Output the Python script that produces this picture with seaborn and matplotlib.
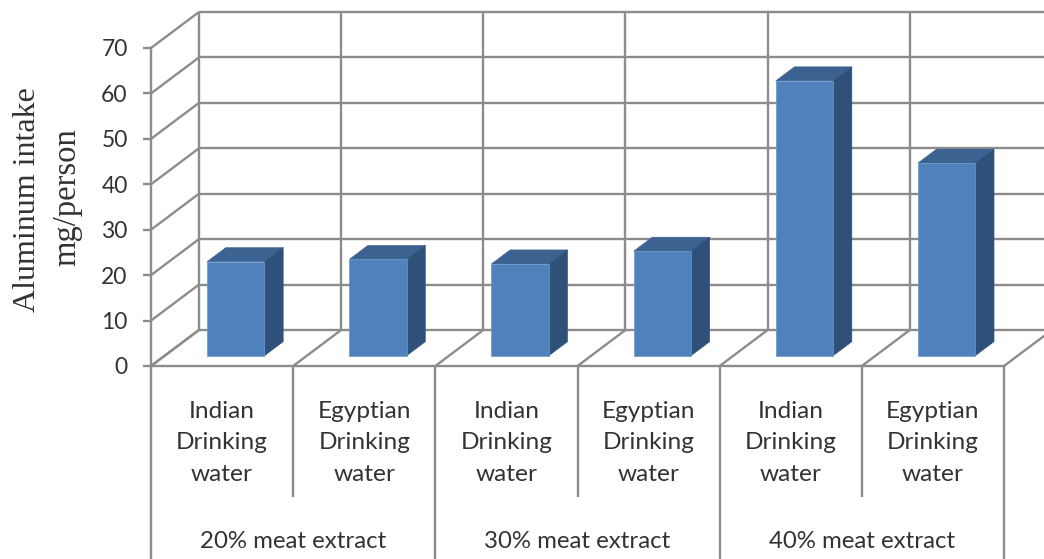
import matplotlib
matplotlib.use("Agg")
import matplotlib.pyplot as plt
from matplotlib.patches import Polygon
from matplotlib.transforms import Affine2D
import pandas as pd
import seaborn as sns

# Aluminum intake per person
extracts = ["20% meat extract", "30% meat extract", "40% meat extract"]
waters = ["Indian\nDrinking\nwater", "Egyptian\nDrinking\nwater"]
intake = [20.7, 21.2, 20.2, 23.0, 60.5, 42.4]
y_ticks = [0, 10, 20, 30, 40, 50, 60, 70]

GRID = "#8c8c8c"
FRONT = "#4f81bd"
TOP = "#3b6291"
SIDE = "#2f5078"
TEXT = "#333333"

W, H = 1044, 559
sns.set_style("white")
plt.rcParams["font.family"] = ["Lato", "DejaVu Sans"]

fig = plt.figure(figsize=(W / 100, H / 100), dpi=100, facecolor="white")
# Front plane of the 3-D box
ax = fig.add_axes([151 / W, 1 - 366 / H, 853 / W, 318 / H])

frame = pd.DataFrame({
    "bar": [f"{e} {w}" for e in extracts for w in waters],
    "intake": intake,
})
sns.barplot(data=frame, x="bar", y="intake", color=FRONT, saturation=1,
            width=0.404, ax=ax, zorder=5, edgecolor="#6a96cb", linewidth=0.5)
ax.set_xlim(-0.5, 5.5)
ax.set_ylim(0, 70)
ax.set_xlabel("")
ax.set_ylabel("")

# Box depth expressed in data units
DX, DY = 0.3376, 7.93
BAR_START, BAR_END = 0.285, 0.675
line = dict(color=GRID, lw=1.7, clip_on=False, solid_capstyle="butt")
edges = [i - 0.5 for i in range(7)]

# Back wall, left wall and floor
for v in y_ticks:
    ax.plot([-0.5 + DX, 5.5 + DX], [v + DY, v + DY], zorder=1, **line)
    ax.plot([-0.5, -0.5 + DX], [v, v + DY], zorder=1, **line)
for e in edges:
    ax.plot([e + DX, e + DX], [DY, 70 + DY], zorder=1, **line)
    ax.plot([e, e + DX], [0, DY], zorder=1, **line)

# Bar front faces sit part way into the box; top and side faces complete them
shift_x, shift_y = BAR_START * DX, BAR_START * DY
depth_x, depth_y = (BAR_END - BAR_START) * DX, (BAR_END - BAR_START) * DY
for patch in list(ax.patches):
    x0, w, h = patch.get_x(), patch.get_width(), patch.get_height()
    patch.set_transform(Affine2D().translate(shift_x, shift_y) + ax.transData)
    patch.set_clip_on(False)
    x0 += shift_x
    x1 = x0 + w
    base, top = shift_y, h + shift_y
    ax.add_patch(Polygon([(x0, top), (x1, top), (x1 + depth_x, top + depth_y),
                          (x0 + depth_x, top + depth_y)],
                         fc=TOP, ec=TOP, lw=0.4, zorder=4, clip_on=False))
    ax.add_patch(Polygon([(x1, base), (x1, top), (x1 + depth_x, top + depth_y),
                          (x1 + depth_x, base + depth_y)],
                         fc=SIDE, ec=SIDE, lw=0.4, zorder=4, clip_on=False))

# Axis frame
sns.despine(ax=ax, top=True, right=True)
for side in ("left", "bottom"):
    ax.spines[side].set_color(GRID)
    ax.spines[side].set_linewidth(1.7)
    ax.spines[side].set_zorder(3)

ax.set_yticks(y_ticks)
ax.tick_params(axis="y", length=5.8, width=1.7, color=GRID, pad=11,
               labelsize=16.5, labelcolor=TEXT, left=True)
for tick_label in ax.get_yticklabels():
    tick_label.set_verticalalignment("center_baseline")

ax.set_xticks(range(6))
ax.set_xticklabels(waters * 3, linespacing=1.625, fontsize=17.6, color=TEXT)
ax.tick_params(axis="x", length=0, pad=25)

# Multi-level category dividers below the axis
xaxis_tf = ax.get_xaxis_transform()
for i, e in enumerate(edges):
    end = -193 / 318 if i % 2 == 0 else -131 / 318
    ax.plot([e, e], [0, end], transform=xaxis_tf, color=GRID, lw=1.7,
            clip_on=False, solid_capstyle="butt", zorder=3)

for i, label in enumerate(extracts):
    ax.text(2 * i + 0.5, -175 / 318, label, transform=xaxis_tf, ha="center",
            va="center", fontsize=17.3, color=TEXT)

fig.text(28 / W, 1 - 200 / H, "Aluminum intake", rotation=90, ha="center",
         va="center", family="Liberation Serif", fontsize=23, color=TEXT)
fig.text(67 / W, 1 - 197 / H, "mg/person", rotation=90, ha="center",
         va="center", family="Liberation Serif", fontsize=23.5, color=TEXT)

fig.savefig("out.png", dpi=100, facecolor="white")
